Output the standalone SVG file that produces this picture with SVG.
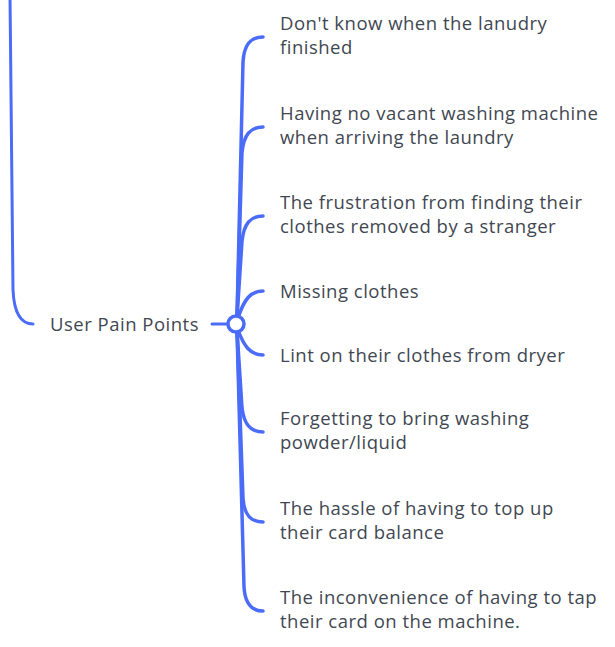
<svg xmlns="http://www.w3.org/2000/svg" width="615" height="647" viewBox="0 0 615 647">
<style>
.t{font-family:"Open Sans","Noto Sans","Liberation Sans",sans-serif;font-size:18.5px;letter-spacing:0.5px;fill:#3f4852}
.c{fill:none;stroke:#4a6cf8;stroke-width:3.5;stroke-linecap:round}
</style>
<rect width="615" height="647" fill="#ffffff"/>
<g id="connectors">
<path class="c" style="stroke-width:3" d="M10 -5 L13 290 C14 312 21 324 33 324"/>
<path class="c" style="stroke-width:3" d="M212 324 L228 324"/>
<path class="c" d="M237 318 L243 62 C244 45 250 37 263 37"/>
<path class="c" d="M237 318 L242 152 C244 135 250 127 263 127"/>
<path class="c" d="M237 318 L242 241 C244 224 250 216 263 216"/>
<path class="c" d="M238 318 C244 300 250 291 263 291"/>
<path class="c" d="M238 330 C244 346 250 355 263 355"/>
<path class="c" d="M237 330 L242 408 C244 424 250 432 263 432"/>
<path class="c" d="M237 330 L243 498 C244 514 250 522 263 522"/>
<path class="c" d="M237 330 L244 587 C245 603 251 611 263 611"/>
</g>
<g id="root">
<text class="t" x="50" y="331">User Pain Points</text>
<circle cx="236" cy="324" r="8" fill="#ffffff" stroke="#4a6cf8" stroke-width="3.5"/>
</g>
<g id="n1"><text class="t" x="280" y="30">Don't know when the lanudry</text><text class="t" x="280" y="54">finished</text></g>
<g id="n2"><text class="t" x="280" y="120">Having no vacant washing machine</text><text class="t" x="280" y="144">when arriving the laundry</text></g>
<g id="n3"><text class="t" x="280" y="209">The frustration from finding their</text><text class="t" x="280" y="233">clothes removed by a stranger</text></g>
<g id="n4"><text class="t" x="280" y="298">Missing clothes</text></g>
<g id="n5"><text class="t" x="280" y="362">Lint on their clothes from dryer</text></g>
<g id="n6"><text class="t" x="280" y="425">Forgetting to bring washing</text><text class="t" x="280" y="449">powder/liquid</text></g>
<g id="n7"><text class="t" x="280" y="515">The hassle of having to top up</text><text class="t" x="280" y="539">their card balance</text></g>
<g id="n8"><text class="t" x="280" y="604">The inconvenience of having to tap</text><text class="t" x="280" y="628">their card on the machine.</text></g>
</svg>
